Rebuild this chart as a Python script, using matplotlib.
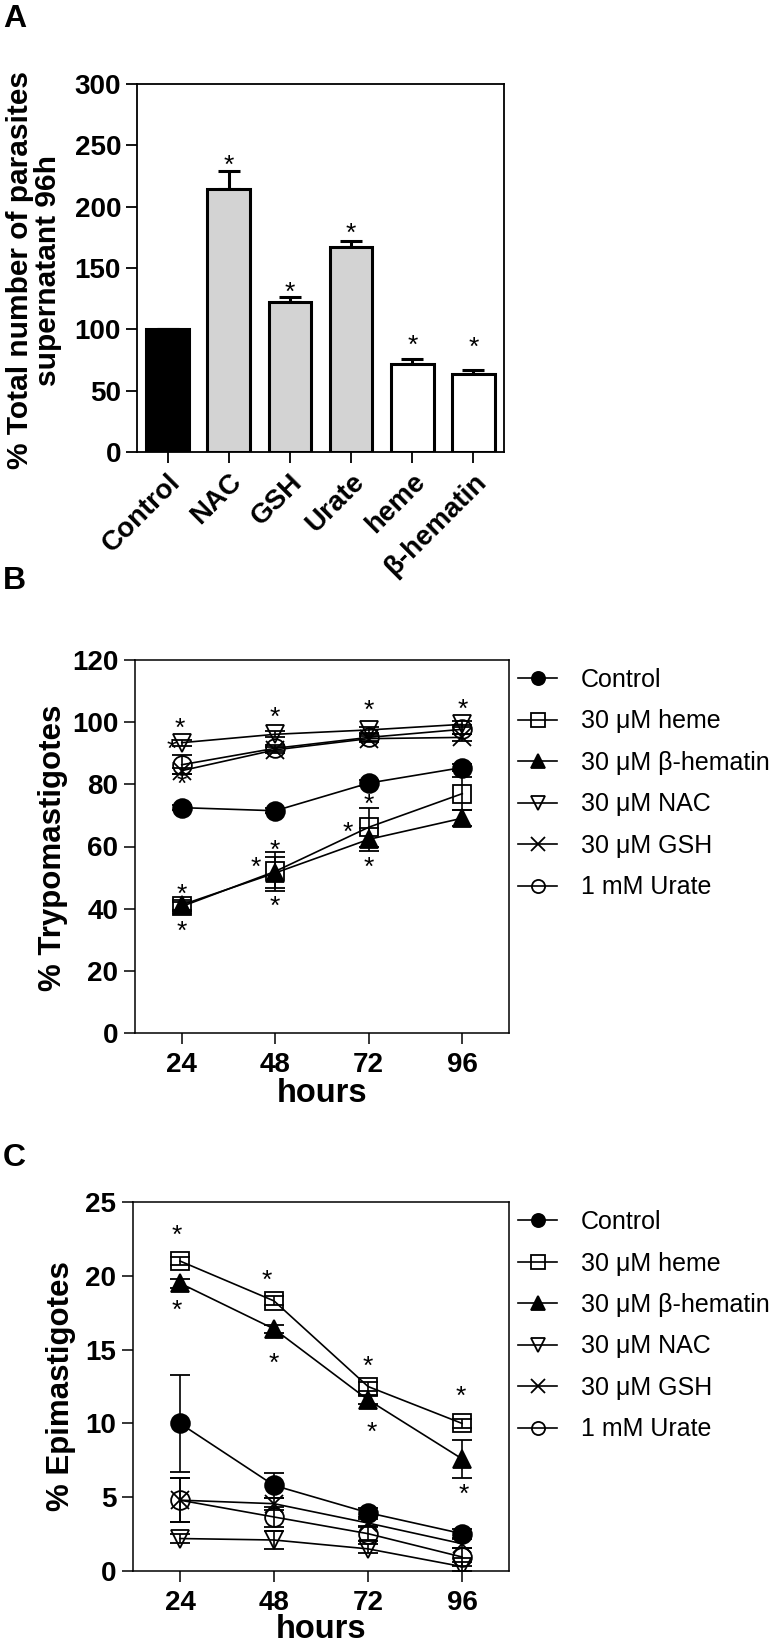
import matplotlib
matplotlib.use("Agg")
import matplotlib.pyplot as plt
import numpy as np

plt.rcParams['font.family'] = ['Liberation Sans', 'DejaVu Sans']

# ---------------- Data ----------------
bar_labels = ['Control', 'NAC', 'GSH', 'Urate', 'heme', 'β-hematin']
bar_values = [100, 214, 122.5, 167.5, 71.5, 63.3]
bar_errors = [0, 15, 4, 4.5, 4.5, 3.3]
bar_colors = ['black', '#d3d3d3', '#d3d3d3', '#d3d3d3', 'white', 'white']
bar_star_idx = [1, 2, 3, 4, 5]
bar_star_y = [240, 137, 185, 93, 92]

hours = [24, 48, 72, 96]
series_labels = ['Control', '30 μM heme', '30 μM β-hematin', '30 μM NAC', '30 μM GSH', '1 mM Urate']

trypo_control = [72.5, 71.5, 80.4, 85.4]
trypo_heme = [40.7, 52.0, 66.2, 77.0]
trypo_bhem = [41.2, 51.5, 62.3, 69.1]
trypo_nac = [93.4, 96.1, 97.5, 99.3]
trypo_gsh = [84.4, 91.1, 94.7, 95.1]
trypo_urate = [86.3, 91.6, 95.1, 97.7]
trypo_control_err = [0.8, 0.8, 1.0, 1.0]
trypo_heme_err = [1.5, 6.3, 6.2, 5.2]
trypo_bhem_err = [1.5, 5.0, 3.8, 2.5]
trypo_nac_err = [1.0, 1.0, 1.0, 1.0]
trypo_gsh_err = [1.0, 1.0, 1.0, 1.0]
trypo_urate_err = [3.0, 1.0, 1.0, 1.5]
trypo_star_x = [23.5, 21.4, 24, 24, 24, 48, 48, 43.1, 48, 72, 72, 66.6, 72, 96]
trypo_star_y = [100.7, 93.8, 82.5, 47.1, 35.4, 104.1, 61.3, 55.7, 43.4, 106.3, 76.1, 67.0, 55.7, 106.6]

epi_control = [10.0, 5.8, 3.95, 2.53]
epi_heme = [21.0, 18.3, 12.5, 10.0]
epi_bhem = [19.5, 16.4, 11.6, 7.6]
epi_nac = [2.2, 2.1, 1.5, 0.3]
epi_gsh = [4.8, 4.56, 3.25, 1.85]
epi_urate = [4.8, 3.66, 2.53, 0.95]
epi_control_err = [3.3, 0.85, 0.3, 0.3]
epi_heme_err = [0.3, 0.3, 0.3, 0.3]
epi_bhem_err = [0.3, 0.3, 0.3, 1.3]
epi_nac_err = [0.3, 0.6, 0.3, 0.3]
epi_gsh_err = [1.5, 0.4, 0.3, 0.3]
epi_urate_err = [1.5, 0.7, 0.5, 0.6]
epi_star_x = [23.1, 23.1, 46.2, 48, 72, 73, 95.7, 96.4]
epi_star_y = [23.3, 18.2, 20.2, 14.6, 14.4, 9.9, 12.35, 5.7]

# ---------------- Styles ----------------
W, H = 777, 1648
DPI = 100
fig = plt.figure(figsize=(W / DPI, H / DPI), dpi=DPI)

def fx(px):
    return px / W

def fy(py):
    return 1 - py / H

def axes_px(l, t, r, b):
    return fig.add_axes([fx(l), fy(b), fx(r) - fx(l), fy(t) - fy(b)])

TICK_FS = 20
STAR_FS = 19

def star(ax, x, y):
    ax.annotate('*', (x, y), xytext=(0, -0.585 * STAR_FS), textcoords='offset points',
                ha='center', va='baseline', fontsize=STAR_FS)

def style_axes(ax, lw=1.1):
    for s in ax.spines.values():
        s.set_linewidth(lw)
    ax.tick_params(direction='out', length=8, width=lw, labelsize=TICK_FS)
    for lab in ax.get_xticklabels() + ax.get_yticklabels():
        lab.set_fontweight('bold')

# ---------------- Panel A ----------------
axA = axes_px(137, 84, 504, 452)
xpos = np.arange(len(bar_labels))
axA.bar(xpos, bar_values, width=0.7, color=bar_colors, edgecolor='black', linewidth=2.2, zorder=2)
axA.errorbar(xpos, bar_values, yerr=[np.zeros(len(bar_errors)), bar_errors], fmt='none',
             ecolor='black', elinewidth=2.2, capsize=8, capthick=2.2, zorder=1)
for i, y in zip(bar_star_idx, bar_star_y):
    star(axA, xpos[i], y)
axA.set_xlim(-0.5, 5.5)
axA.set_ylim(0, 300)
axA.set_yticks(np.arange(0, 301, 50))
axA.set_xticks(xpos)
axA.set_xticklabels(bar_labels)
style_axes(axA, lw=1.3)
axA.tick_params(axis='x', pad=4)
for lab in axA.get_xticklabels():
    lab.set_rotation(45)
    lab.set_ha('right')
    lab.set_va('top')
    lab.set_rotation_mode('anchor')
    lab.set_fontweight('bold')
    lab.set_fontsize(20)
for lab in axA.get_yticklabels():
    lab.set_fontweight('bold')
fig.text(fx(34), fy(270), '% Total number of parasites\nsupernatant 96h', rotation=90,
         ha='center', va='center', fontsize=21.5, fontweight='bold', linespacing=1.0)

# ---------------- Line panels ----------------
marker_specs = [
    dict(marker='o', mfc='black', mec='black'),
    dict(marker='s', mfc='none', mec='black'),
    dict(marker='^', mfc='black', mec='black'),
    dict(marker='v', mfc='none', mec='black'),
    dict(marker='x', mfc='none', mec='black'),
    dict(marker='o', mfc='none', mec='black'),
]

def line_panel(ax, series, errors, stars_x, stars_y, ylim, yticks, leg_top):
    handles = []
    for vals, errs, spec, lab in zip(series, errors, marker_specs, series_labels):
        c = ax.errorbar(hours, vals, yerr=errs, color='black', lw=1.2, elinewidth=1.2,
                        capsize=7, capthick=1.2, markersize=13.5, mew=1.3, label=lab, **spec)
        handles.append(c[0])
    for x, y in zip(stars_x, stars_y):
        star(ax, x, y)
    ax.set_xlim(12, 108)
    ax.set_ylim(*ylim)
    ax.set_xticks(hours)
    ax.set_yticks(yticks)
    style_axes(ax, lw=1.1)
    ax.tick_params(axis='x', pad=6)
    ax.tick_params(axis='y', pad=4)
    ax.legend(handles=handles, labels=series_labels, loc='upper left',
              bbox_to_anchor=(fx(518), fy(leg_top)), bbox_transform=fig.transFigure,
              frameon=False, borderpad=0, borderaxespad=0, handlelength=1.56,
              handletextpad=0.96, labelspacing=0.70, fontsize=18, markerscale=0.7)

axB = axes_px(135, 660, 509, 1033)
line_panel(axB,
           [trypo_control, trypo_heme, trypo_bhem, trypo_nac, trypo_gsh, trypo_urate],
           [trypo_control_err, trypo_heme_err, trypo_bhem_err, trypo_nac_err, trypo_gsh_err, trypo_urate_err],
           trypo_star_x, trypo_star_y, (0, 120), np.arange(0, 121, 20), 668)
fig.text(fx(53), fy(848), '% Trypomastigotes', rotation=90, ha='center', va='center',
         fontsize=22.5, fontweight='bold')
fig.text(fx(322), fy(1094), 'hours', ha='center', va='center', fontsize=23.5, fontweight='bold')

axC = axes_px(133, 1202, 509, 1571)
line_panel(axC,
           [epi_control, epi_heme, epi_bhem, epi_nac, epi_gsh, epi_urate],
           [epi_control_err, epi_heme_err, epi_bhem_err, epi_nac_err, epi_gsh_err, epi_urate_err],
           epi_star_x, epi_star_y, (0, 25), np.arange(0, 26, 5), 1210)
fig.text(fx(61), fy(1386), '% Epimastigotes', rotation=90, ha='center', va='center',
         fontsize=22.5, fontweight='bold')
fig.text(fx(321), fy(1630), 'hours', ha='center', va='center', fontsize=23.5, fontweight='bold')

# Panel letters
for letter, top in [('A', 4), ('B', 566), ('C', 1143)]:
    fig.text(fx(3), fy(top), letter, ha='left', va='top', fontsize=23, fontweight='bold')

fig.savefig('out.png', dpi=DPI)
